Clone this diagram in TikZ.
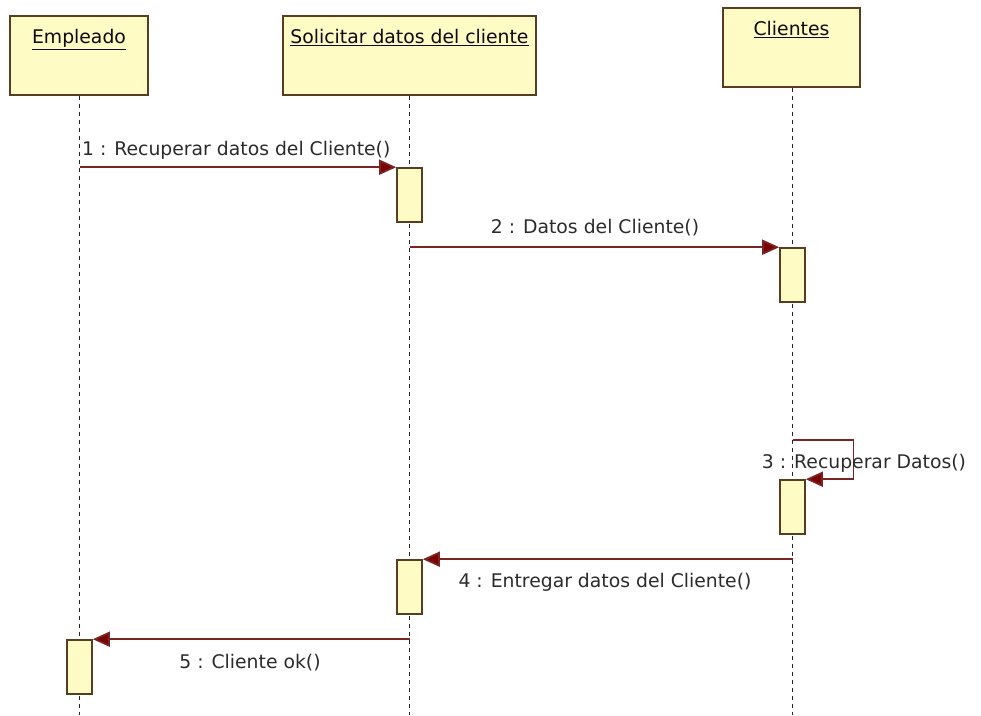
\documentclass[tikz,border=0pt]{standalone}
\usepackage{fontspec}
\setmainfont{DejaVu Sans}
\usepackage{xcolor}
\usepackage{tikz}
\usetikzlibrary{arrows.meta, positioning}

\definecolor{objfill}{HTML}{FFFBC4}
\definecolor{objdraw}{HTML}{5A3C23}
\definecolor{msgline}{HTML}{7A2424}
\definecolor{msghead}{HTML}{7B0000}
\definecolor{msgtext}{HTML}{2B2B2B}

\begin{document}
\begin{tikzpicture}[
    x=1pt, y=-1pt,
    head/.style={rectangle, draw=objdraw, fill=objfill, line width=2pt, minimum height=79pt, inner sep=0pt},
    headtxt/.style={anchor=north, yshift=-15pt, inner sep=0pt, text=black!85!objdraw, font=\fontsize{18.8pt}{22pt}\selectfont},
    act/.style={rectangle, draw=objdraw, fill=objfill, line width=1.6pt, minimum width=25pt, minimum height=54pt, inner sep=0pt},
    lifeline/.style={draw=black!85, line width=1.3pt, dash pattern=on 4pt off 4pt},
    msg/.style={draw=msgline, line width=1.8pt, -{Triangle[length=17pt, width=15pt, fill=msghead]}},
    lbl/.style={text=msgtext, inner sep=0pt, font=\fontsize{18.8pt}{22pt}\selectfont}
]
    \useasboundingbox (0,0) rectangle (981,715);

    % Objects (top row)
    \node (emp) at (79,55) [head, minimum width=138pt, label={[headtxt]north:\underline{Empleado}}] {};
    \node (sol) at (409.5,55) [head, minimum width=253pt, label={[headtxt]north:\underline{Solicitar datos del cliente}}] {};
    \node (cli) at (791.5,47) [head, minimum width=137pt, label={[headtxt]north:\underline{Clientes}}] {};

    % Lifelines down to the bottom edge
    \coordinate (empEnd) at (79.5,715);
    \coordinate (solEnd) at (409.5,715);
    \coordinate (cliEnd) at (792.5,715);
    \draw [lifeline] (emp.south -| empEnd) -- (empEnd);
    \draw [lifeline] (sol.south) -- (solEnd);
    \draw [lifeline] (cli.south -| cliEnd) -- (cliEnd);

    % Activation bars
    \node (act1) at (409.5,195) [act] {};
    \node (act2) at (792.5,275) [act] {};
    \node (act3) at (792.5,507) [act] {};
    \node (act4) at (409.5,587) [act] {};
    \node (act5) at (79.5,667) [act] {};

    % Messages
    \draw [msg] (empEnd |- act1.north west) -- (act1.north west);
    \draw [msg] (solEnd |- act2.north west) -- (act2.north west);
    \coordinate (loop3) at (792.5,440);
    \draw [msg] (loop3) -- ++(61,0) |- (act3.north east);
    \draw [msg] (cliEnd |- act4.north east) -- (act4.north east);
    \draw [msg] (solEnd |- act5.north east) -- (act5.north east);

    % Message labels
    \node (l1) at (82,150) [lbl, anchor=west] {1 : Recuperar datos del Cliente()};
    \node (l2) at (595,228) [lbl] {2 : Datos del Cliente()};
    \node (l3) at (864,463) [lbl] {3 : Recuperar Datos()};
    \node (l4) at (605,582) [lbl] {4 : Entregar datos del Cliente()};
    \node (l5) at (250,663) [lbl] {5 : Cliente ok()};

\end{tikzpicture}
\end{document}
